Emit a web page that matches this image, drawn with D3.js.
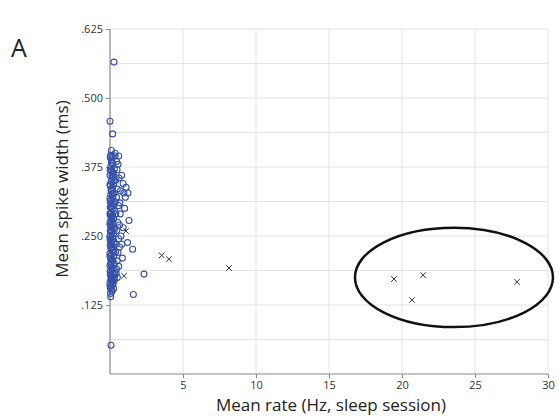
<!DOCTYPE html>
<html>
<head>
<meta charset="utf-8">
<script src="https://cdn.jsdelivr.net/npm/d3@7"></script>
<style>
  body { margin: 0; background: #fff; }
  svg { display: block; font-family: "Open Sans", "Lato", sans-serif; }
</style>
</head>
<body>
<div id="chart"></div>
<script>
// data: [mean rate (Hz), mean spike width (ms)]
var circlePoints = [
  [0.27,0.565],[0.0,0.458],[0.18,0.435],[2.33,0.181],[1.6,0.144],[0.07,0.052],
  [1.3,0.278],[1.2,0.238],[1.55,0.226],[0.68,0.31],[1.23,0.328],[0.9,0.345],
  [1.1,0.338],[0.6,0.395],[0.35,0.40],[0.1,0.405],[0.45,0.385],[0.8,0.36],
  [1.0,0.30],[0.7,0.29],[0.9,0.265],[0.75,0.25],[0.55,0.22],[0.85,0.21],
  [0.6,0.195],[0.35,0.18],[0.5,0.175],[0.2,0.165],[0.15,0.15],[0.05,0.14],[0.25,0.155],
  [0.02,0.392],[0.12,0.388],[0.2,0.381],[0.05,0.376],[0.3,0.372],[0.1,0.368],
  [0.22,0.365],[0.0,0.36],[0.15,0.356],[0.4,0.352],[0.08,0.349],[0.25,0.345],
  [0.03,0.341],[0.18,0.338],[0.5,0.335],[0.1,0.331],[0.28,0.328],[0.05,0.325],
  [0.2,0.321],[0.0,0.318],[0.12,0.315],[0.35,0.312],[0.07,0.309],[0.22,0.305],
  [0.02,0.302],[0.15,0.299],[0.3,0.296],[0.09,0.293],[0.0,0.29],[0.18,0.287],
  [0.05,0.284],[0.26,0.281],[0.11,0.278],[0.0,0.275],[0.2,0.272],[0.06,0.269],
  [0.14,0.266],[0.32,0.263],[0.02,0.26],[0.1,0.257],[0.24,0.254],[0.04,0.251],
  [0.17,0.248],[0.0,0.245],[0.08,0.242],[0.28,0.239],[0.13,0.236],[0.02,0.233],
  [0.21,0.23],[0.06,0.227],[0.15,0.224],[0.38,0.221],[0.0,0.218],[0.1,0.215],
  [0.25,0.212],[0.04,0.209],[0.18,0.206],[0.08,0.203],[0.3,0.2],[0.0,0.197],
  [0.12,0.194],[0.22,0.191],[0.05,0.188],[0.16,0.185],[0.42,0.183],[0.02,0.18],
  [0.1,0.177],[0.27,0.174],[0.06,0.171],[0.14,0.168],[0.0,0.165],[0.2,0.162],
  [0.08,0.159],[0.03,0.155],[0.12,0.152],
  [0.35,0.395],[0.55,0.38],[0.48,0.37],[0.62,0.355],[0.72,0.332],[0.45,0.32],
  [0.58,0.305],[0.4,0.29],[0.52,0.275],[0.46,0.26],[0.6,0.245],[0.38,0.235],
  [0.65,0.23],[0.5,0.205],[0.44,0.19],[0.3,0.17],[0.95,0.328],[0.65,0.27],
  [0.8,0.235],[1.05,0.32],
  [0.04,0.396],[0.09,0.383],[0.01,0.37],[0.13,0.362],[0.0,0.343],[0.07,0.334],
  [0.01,0.313],[0.09,0.303],[0.03,0.291],[0.12,0.282],[0.01,0.27],[0.08,0.261],
  [0.0,0.25],[0.05,0.238],[0.11,0.229],[0.0,0.213],[0.06,0.2],[0.01,0.186],
  [0.09,0.172],[0.0,0.16],[0.04,0.146],
  [0.16,0.394],[0.26,0.358],[0.19,0.326],[0.27,0.308],[0.14,0.286],[0.23,0.264],
  [0.19,0.244],[0.26,0.221],[0.14,0.208],[0.23,0.181],[0.17,0.176],[0.32,0.35]
];
var crossPoints = [
  [1.1,0.259],[0.96,0.178],[3.54,0.215],[4.04,0.208],[8.15,0.192],
  [19.45,0.172],[21.44,0.179],[20.68,0.134],[27.88,0.167]
];
// highlighted cluster: centre and radii in data units
var ellipseCenter = [23.56, 0.175];
var ellipseRadii = [6.78, 0.09];

var xTicks = [5, 10, 15, 20, 25, 30];
var yTicks = [0.125, 0.25, 0.375, 0.5, 0.625];
var yTickLabels = [".125", ".250", ".375", ".500", ".625"];
var yGrid = [0.0625, 0.125, 0.1875, 0.25, 0.3125, 0.375, 0.4375, 0.5, 0.5625, 0.625];

var width = 559, height = 416;
var margin = { top: 29, right: 11, bottom: 42, left: 110 };

var svg = d3.select('#chart').append('svg')
  .attr('width', width)
  .attr('height', height);

var x = d3.scaleLinear().domain([0, 30]).range([margin.left, width - margin.right]);
var y = d3.scaleLinear().domain([0, 0.625]).range([height - margin.bottom, margin.top]);

// grid
svg.append('g').selectAll('line.v')
  .data(xTicks).enter().append('line')
  .attr('x1', function(d) { return x(d); })
  .attr('x2', function(d) { return x(d); })
  .attr('y1', y(0)).attr('y2', y(0.625))
  .style('stroke', '#e3e3e3').style('stroke-width', 1);

svg.append('g').selectAll('line.h')
  .data(yGrid).enter().append('line')
  .attr('x1', x(0)).attr('x2', x(30))
  .attr('y1', function(d) { return y(d); })
  .attr('y2', function(d) { return y(d); })
  .style('stroke', '#e3e3e3').style('stroke-width', 1);

// axes
var xAxis = d3.axisBottom(x).tickValues(xTicks).tickSize(4).tickPadding(3);
var yAxis = d3.axisLeft(y).tickValues(yTicks).tickSize(4).tickPadding(3)
  .tickFormat(function(d, i) { return yTickLabels[i]; });

var gx = svg.append('g')
  .attr('transform', 'translate(0,' + y(0) + ')')
  .call(xAxis);
var gy = svg.append('g')
  .attr('transform', 'translate(' + x(0) + ',0)')
  .call(yAxis);

[gx, gy].forEach(function(g) {
  g.select('.domain').attr('d', g === gx
      ? 'M' + x(0) + ',0H' + x(30)
      : 'M0,' + y(0) + 'V' + y(0.625))
    .style('stroke', '#888').style('stroke-width', 1.2);
  g.selectAll('.tick line').style('stroke', '#888');
  g.selectAll('.tick text')
    .style('font-family', '"Open Sans", sans-serif')
    .style('font-size', '11px').style('fill', '#333');
});

// circles
svg.append('g').selectAll('circle')
  .data(circlePoints).enter().append('circle')
  .attr('cx', function(d) { return x(d[0]); })
  .attr('cy', function(d) { return y(d[1]); })
  .attr('r', 3)
  .style('fill', 'none')
  .style('stroke', '#3550a8')
  .style('stroke-width', 1.1);

// crosses
var cs = 2.8;
svg.append('g').selectAll('path')
  .data(crossPoints).enter().append('path')
  .attr('d', function(d) {
    var cx = x(d[0]), cy = y(d[1]);
    return 'M' + (cx - cs) + ',' + (cy - cs) + 'L' + (cx + cs) + ',' + (cy + cs) +
           'M' + (cx - cs) + ',' + (cy + cs) + 'L' + (cx + cs) + ',' + (cy - cs);
  })
  .style('stroke', '#333')
  .style('stroke-width', 1);

// ellipse around the high-rate cluster
svg.append('ellipse')
  .attr('cx', x(ellipseCenter[0]))
  .attr('cy', y(ellipseCenter[1]))
  .attr('rx', x(ellipseRadii[0]) - x(0))
  .attr('ry', y(0) - y(ellipseRadii[1]))
  .style('fill', 'none')
  .style('stroke', '#111')
  .style('stroke-width', 2.5);

// labels
svg.append('text')
  .attr('x', 331)
  .attr('y', 411)
  .attr('text-anchor', 'middle')
  .style('font-size', '17px').style('fill', '#222')
  .text('Mean rate (Hz, sleep session)');

svg.append('text')
  .attr('transform', 'translate(68,189) rotate(-90)')
  .attr('text-anchor', 'middle')
  .style('font-size', '17px').style('fill', '#222')
  .text('Mean spike width (ms)');

svg.append('text')
  .attr('x', 11).attr('y', 57)
  .style('font-size', '25px').style('fill', '#222')
  .text('A');
</script>
</body>
</html>
